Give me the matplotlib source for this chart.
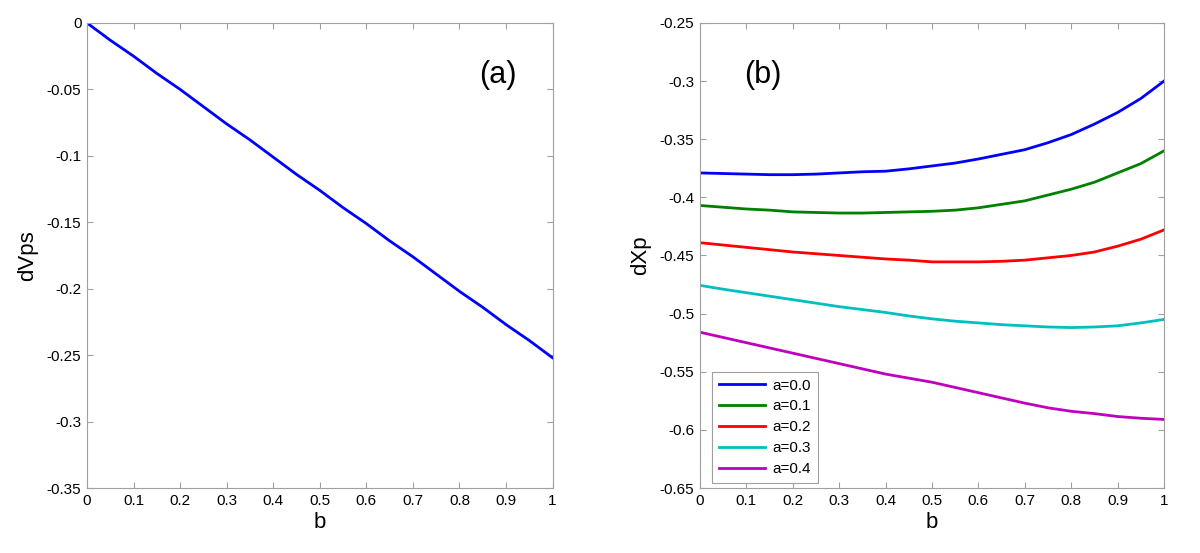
import numpy as np
import matplotlib
matplotlib.use("Agg")
import matplotlib.pyplot as plt
from matplotlib.ticker import FuncFormatter, MultipleLocator

plt.rcParams['font.family'] = ['Liberation Sans', 'DejaVu Sans']
plt.rcParams['axes.unicode_minus'] = False

# b values shared by both panels
b = [0.0, 0.05, 0.1, 0.15, 0.2, 0.25, 0.3, 0.35, 0.4, 0.45, 0.5,
     0.55, 0.6, 0.65, 0.7, 0.75, 0.8, 0.85, 0.9, 0.95, 1.0]

# panel (a): dVps vs b
dvps = [0.0, -0.013, -0.025, -0.038, -0.050, -0.063, -0.076, -0.088, -0.101, -0.114, -0.126,
        -0.139, -0.151, -0.164, -0.176, -0.189, -0.202, -0.214, -0.227, -0.239, -0.252]

# panel (b): dXp vs b for several a
a_labels = ['a=0.0', 'a=0.1', 'a=0.2', 'a=0.3', 'a=0.4']
dxp_a00 = [-0.379, -0.3795, -0.380, -0.3805, -0.3805, -0.380, -0.379, -0.378, -0.3775, -0.3755, -0.373,
           -0.3705, -0.367, -0.363, -0.359, -0.353, -0.346, -0.337, -0.327, -0.315, -0.300]
dxp_a01 = [-0.407, -0.4085, -0.410, -0.411, -0.4125, -0.413, -0.4135, -0.4135, -0.413, -0.4125, -0.412,
           -0.411, -0.409, -0.406, -0.403, -0.398, -0.393, -0.387, -0.379, -0.371, -0.360]
dxp_a02 = [-0.439, -0.441, -0.443, -0.445, -0.447, -0.4485, -0.450, -0.4515, -0.453, -0.454, -0.4555,
           -0.4555, -0.4555, -0.455, -0.454, -0.452, -0.450, -0.447, -0.442, -0.436, -0.428]
dxp_a03 = [-0.4757, -0.479, -0.482, -0.485, -0.488, -0.491, -0.494, -0.4965, -0.499, -0.502, -0.5045,
           -0.5065, -0.508, -0.5095, -0.5105, -0.5115, -0.512, -0.5115, -0.5105, -0.508, -0.505]
dxp_a04 = [-0.516, -0.5205, -0.525, -0.5295, -0.534, -0.5385, -0.543, -0.5475, -0.552, -0.5555, -0.559,
           -0.5635, -0.568, -0.5725, -0.577, -0.581, -0.584, -0.586, -0.5885, -0.590, -0.591]
series_b = [dxp_a00, dxp_a01, dxp_a02, dxp_a03, dxp_a04]
colors = ['#0000ff', '#008000', '#ff0000', '#00bfbf', '#bf00bf']

fmt = FuncFormatter(lambda v, p: '%g' % round(v, 4))


def style_axes(ax):
    for s in ax.spines.values():
        s.set_color('#a0a0a0')
        s.set_linewidth(0.8)
    ax.tick_params(direction='in', top=True, right=True, length=4,
                   color='#a0a0a0', labelsize=11, pad=4)
    ax.xaxis.set_major_locator(MultipleLocator(0.1))
    ax.yaxis.set_major_locator(MultipleLocator(0.05))
    ax.xaxis.set_major_formatter(fmt)
    ax.yaxis.set_major_formatter(fmt)
    ax.set_xlim(0, 1)


fig = plt.figure(figsize=(12, 5.53), dpi=100)
ax1 = fig.add_axes([0.0725, 0.1175, 0.388, 0.841])
ax2 = fig.add_axes([0.5833, 0.1175, 0.3867, 0.841])

ax1.plot(b, dvps, color='#0000ff', linewidth=2)
style_axes(ax1)
ax1.set_ylim(-0.35, 0)
ax1.set_xlabel('b', fontsize=16, labelpad=3)
ax1.set_ylabel('dVps', fontsize=16, labelpad=6)
ax1.text(0.883, -0.039, '(a)', fontsize=22, ha='center', va='center')

for ys, c, lab in zip(series_b, colors, a_labels):
    ax2.plot(b, ys, color=c, linewidth=2, label=lab)
style_axes(ax2)
ax2.set_ylim(-0.65, -0.25)
ax2.set_xlabel('b', fontsize=16, labelpad=3)
ax2.set_ylabel('dXp', fontsize=16, labelpad=6)
ax2.text(0.136, -0.2947, '(b)', fontsize=22, ha='center', va='center')
leg = ax2.legend(loc='lower left', bbox_to_anchor=(0.026, 0.011), fontsize=11,
                 handlelength=3, handletextpad=0.5, borderpad=0.45, labelspacing=0.45,
                 fancybox=False, framealpha=1, edgecolor='#a0a0a0', borderaxespad=0)
leg.get_frame().set_linewidth(0.8)

fig.savefig('out.png', dpi=100, facecolor='white')
